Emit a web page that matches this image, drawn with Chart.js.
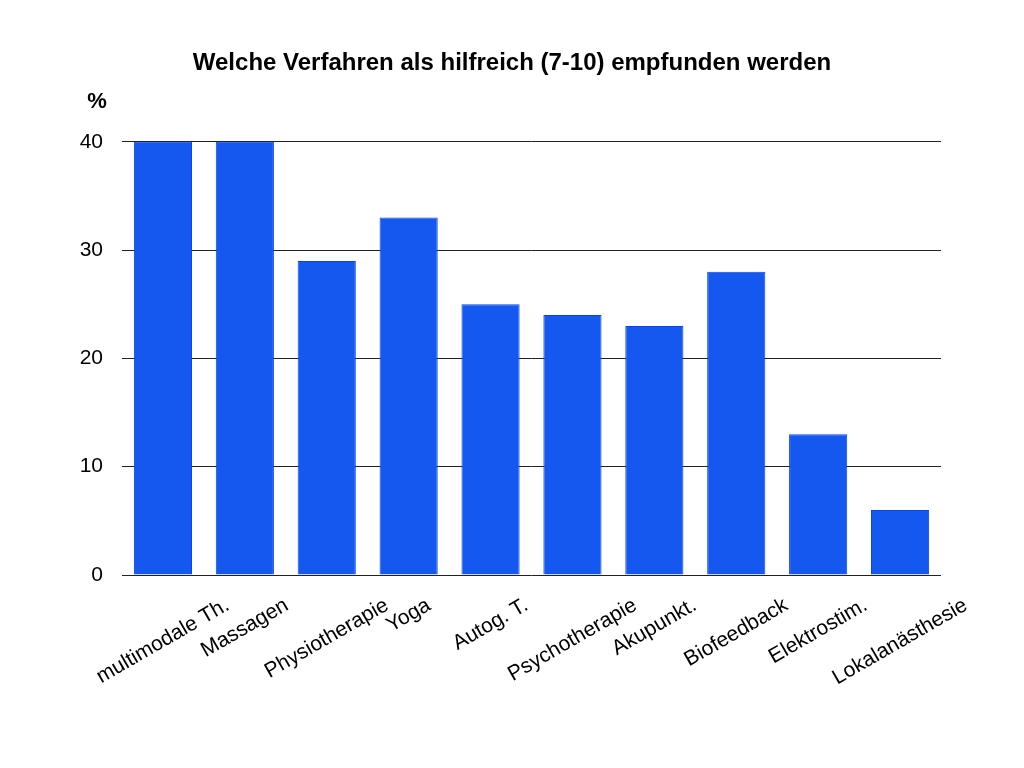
<!DOCTYPE html>
<html>
<head>
<meta charset="utf-8">
<script src="https://cdn.jsdelivr.net/npm/chart.js@4/dist/chart.umd.min.js"></script>
<style>
  html, body { margin: 0; padding: 0; background: #fff; }
  #wrap { width: 1024px; height: 768px; }
</style>
</head>
<body>
<div id="wrap"><canvas id="grafico"></canvas></div>
<script>
// dados
const verfahren = ['multimodale Th.', 'Massagen', 'Physiotherapie', 'Yoga', 'Autog. T.',
    'Psychotherapie', 'Akupunkt.', 'Biofeedback', 'Elektrostim.', 'Lokalanästhesie'];
const hilfreich = [40, 40, 29, 33, 25, 24, 23, 28, 13, 6];
const yTicks = [0, 10, 20, 30, 40];

const fonte = '"Liberation Sans", Arial, Helvetica, sans-serif';

// rotulos inclinados, centrados na categoria
const rotulosX = {
    id: 'rotulosX',
    afterDraw(chart) {
        const ctx = chart.ctx;
        const x = chart.scales.x;
        const ang = Math.PI / 6;
        const topo = chart.chartArea.bottom + 21;
        ctx.save();
        ctx.font = '21px ' + fonte;
        ctx.fillStyle = '#000';
        ctx.textAlign = 'center';
        ctx.textBaseline = 'middle';
        verfahren.forEach((txt, i) => {
            const w = ctx.measureText(txt).width;
            const h = 18;
            const meiaAltura = (w / 2) * Math.sin(ang) + (h / 2) * Math.cos(ang);
            const cx = x.getPixelForValue(i);
            const cy = topo + meiaAltura;
            ctx.save();
            ctx.translate(cx, cy);
            ctx.rotate(-ang);
            ctx.fillText(txt, 0, 0);
            ctx.restore();
        });
        // unidade
        ctx.font = 'bold 22px ' + fonte;
        ctx.textAlign = 'center';
        ctx.fillText('%', 97, 102);
        ctx.restore();
    }
};

const ctx = document.getElementById('grafico').getContext('2d');
new Chart(ctx, {
    type: 'bar',
    data: {
        labels: verfahren,
        datasets: [{
            label: 'hilfreich (7-10)',
            data: hilfreich,
            backgroundColor: '#1558F0',
            borderColor: '#0A44F2',
            borderWidth: 1,
            categoryPercentage: 1,
            barPercentage: 0.71
        }]
    },
    options: {
        responsive: true,
        maintainAspectRatio: false,
        animation: false,
        layout: { padding: 0 },
        plugins: {
            legend: { display: false },
            tooltip: { enabled: false },
            title: {
                display: true,
                text: 'Welche Verfahren als hilfreich (7-10) empfunden werden',
                color: '#000',
                font: { family: fonte, size: 24, weight: 'bold' },
                padding: { top: 49, bottom: 64 }
            }
        },
        scales: {
            x: {
                grid: { display: false },
                border: { display: false },
                ticks: { display: false },
                afterFit(s) { s.height = 193; }
            },
            y: {
                min: 0,
                max: 40,
                afterBuildTicks(s) { s.ticks = yTicks.map(v => ({ value: v })); },
                grid: { color: '#222', lineWidth: 1, drawTicks: false },
                border: { display: false },
                ticks: {
                    color: '#000',
                    padding: 19,
                    font: { family: fonte, size: 21 }
                },
                afterFit(s) { s.width = 122; }
            },
            // eixo vazio so para reservar a margem direita
            margemDireita: {
                position: 'right',
                min: 0,
                max: 40,
                grid: { display: false },
                border: { display: false },
                ticks: { display: false },
                afterFit(s) { s.width = 83; }
            }
        }
    },
    plugins: [rotulosX]
});
</script>
</body>
</html>
